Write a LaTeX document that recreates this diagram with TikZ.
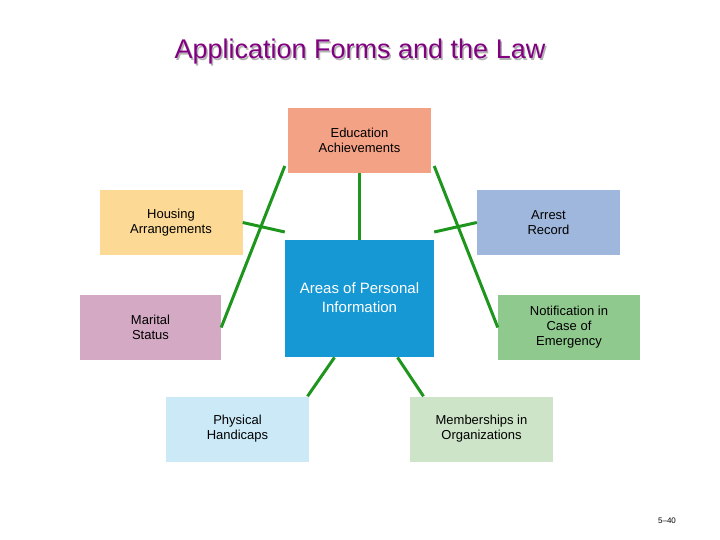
\documentclass[tikz,border=0pt]{standalone}
\usepackage{fontspec}
\setmainfont{Liberation Sans}
\begin{document}
\begin{tikzpicture}[x=1pt,y=-1pt,
 box/.style={minimum width=143pt,minimum height=65pt,inner sep=0pt,align=center,font=\fontsize{13}{15}\selectfont},
 conn/.style={draw={rgb,255:red,30;green,150;blue,30},line width=3pt}]
\definecolor{edu}{RGB}{244,162,134}
\definecolor{hous}{RGB}{252,217,149}
\definecolor{arr}{RGB}{159,183,220}
\definecolor{cen}{RGB}{22,152,212}
\definecolor{mar}{RGB}{212,169,196}
\definecolor{noti}{RGB}{143,201,142}
\definecolor{phys}{RGB}{204,233,248}
\definecolor{memb}{RGB}{205,228,200}
\definecolor{ttl}{RGB}{128,0,128}
\useasboundingbox (0,0) rectangle (720,540);
\node[text=gray!60,font=\fontsize{27}{30}\selectfont] at (361.5,53.5) {Application Forms and the Law};
\node (title)[text=ttl,font=\fontsize{27}{30}\selectfont] at (360,52) {Application Forms and the Law};
\node (edu)[box,fill=edu] at (359.5,140.5) {Education\\Achievements};
\node (hous)[box,fill=hous] at (171,222.5) {Housing\\Arrangements};
\node (arr)[box,fill=arr] at (548.5,222.5) {Arrest\\Record};
\node (cen)[box,fill=cen,minimum width=149pt,minimum height=117pt,text=white,anchor=north,font=\fontsize{15}{19}\selectfont] at (359.5,240) {};
\node[text=white,font=\fontsize{15}{19}\selectfont,align=center] at (359.5,298) {Areas of Personal\\Information};
\node (mar)[box,minimum width=141pt,fill=mar] at (150.5,327.5) {Marital\\Status};
\node (noti)[box,minimum width=142pt,fill=noti] at (569,327.5) {Notification in\\Case of\\Emergency};
\node (phys)[box,fill=phys] at (237.5,429) {Physical\\Handicaps};
\node (memb)[box,fill=memb] at (481.5,429) {Memberships in\\Organizations};
\draw[conn] (edu.south) -- (cen.north);
\draw[conn] (hous.east) -- ([yshift=8pt]cen.north west);
\draw[conn] (arr.west) -- ([yshift=8pt]cen.north east);
\draw[conn] (mar.east) -- ([yshift=74pt]cen.north west);
\draw[conn] (noti.west) -- ([yshift=74pt]cen.north east);
\draw[conn] ([xshift=-25pt]cen.south) -- ([xshift=70pt]phys.north);
\draw[conn] ([xshift=38pt]cen.south) -- ([xshift=-58pt]memb.north);
\node (pg)[font=\fontsize{8}{9}\selectfont] at (667,521) {5–40};
\end{tikzpicture}
\end{document}
